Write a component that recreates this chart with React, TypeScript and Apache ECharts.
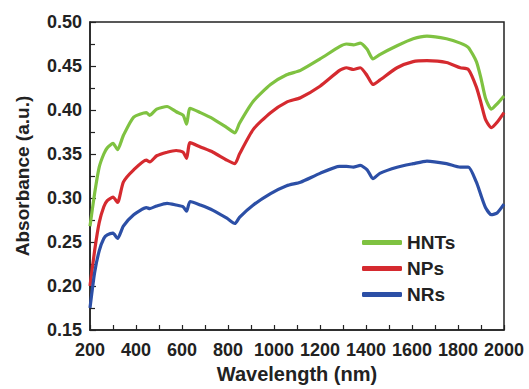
import React, { useEffect, useRef } from "react";
import * as echarts from "echarts";

const wavelengths = [200, 220, 240, 260, 275, 300, 320, 345, 390, 445, 460, 490, 535, 575, 605, 620, 635, 680, 735, 795, 830, 850, 910, 985, 1055, 1115, 1200, 1285, 1315, 1345, 1375, 1405, 1430, 1460, 1535, 1605, 1665, 1750, 1810, 1845, 1880, 1900, 1920, 1945, 1970, 2000];

const hnts = [0.268, 0.305, 0.335, 0.350, 0.357, 0.362, 0.355, 0.371, 0.392, 0.397, 0.394, 0.401, 0.404, 0.398, 0.394, 0.384, 0.402, 0.397, 0.390, 0.380, 0.374, 0.385, 0.410, 0.429, 0.440, 0.445, 0.458, 0.472, 0.475, 0.474, 0.476, 0.469, 0.458, 0.463, 0.473, 0.481, 0.484, 0.481, 0.476, 0.471, 0.455, 0.436, 0.413, 0.401, 0.407, 0.416];

const nps = [0.200, 0.240, 0.272, 0.290, 0.297, 0.301, 0.295, 0.318, 0.332, 0.343, 0.341, 0.348, 0.352, 0.354, 0.352, 0.345, 0.363, 0.358, 0.352, 0.343, 0.339, 0.350, 0.378, 0.397, 0.409, 0.414, 0.427, 0.445, 0.448, 0.446, 0.448, 0.439, 0.429, 0.434, 0.448, 0.455, 0.456, 0.454, 0.448, 0.446, 0.426, 0.408, 0.389, 0.380, 0.386, 0.397];

const nrs = [0.175, 0.215, 0.240, 0.254, 0.258, 0.260, 0.254, 0.268, 0.281, 0.289, 0.288, 0.291, 0.294, 0.292, 0.290, 0.285, 0.296, 0.292, 0.286, 0.277, 0.271, 0.278, 0.292, 0.305, 0.314, 0.318, 0.328, 0.336, 0.336, 0.335, 0.337, 0.332, 0.322, 0.328, 0.335, 0.339, 0.342, 0.339, 0.335, 0.335, 0.318, 0.303, 0.289, 0.281, 0.283, 0.293];

const seriesNames = ["HNTs", "NPs", "NRs"];
const seriesColors = ["#7fc241", "#d52a2f", "#2c4fa6"];

const FONT = "'Liberation Sans', Arial, sans-serif";

export default function App() {
  const ref = useRef<HTMLDivElement>(null);
  useEffect(() => {
    if (!ref.current) return;
    const chart = echarts.init(ref.current, undefined, { renderer: "svg" });
    const all = [hnts, nps, nrs];
    chart.setOption({
      animation: false,
      backgroundColor: "#ffffff",
      grid: {
        left: 90,
        right: 25,
        top: 22,
        bottom: 57,
        show: true,
        borderColor: "#222",
        borderWidth: 1.5,
        backgroundColor: "transparent",
      },
      legend: {
        orient: "vertical",
        left: 357,
        top: 228,
        itemWidth: 40,
        itemHeight: 5,
        itemGap: 7,
        icon: "roundRect",
        textStyle: { fontFamily: FONT, fontWeight: "bold", fontSize: 19, color: "#222" },
        data: seriesNames,
      },
      xAxis: {
        type: "value",
        min: 200,
        max: 2000,
        interval: 200,
        name: "Wavelength (nm)",
        nameLocation: "middle",
        nameGap: 34,
        nameTextStyle: { fontFamily: FONT, fontWeight: "bold", fontSize: 20, color: "#222" },
        axisLine: { show: true, lineStyle: { color: "#222", width: 1.5 } },
        axisTick: { show: true, inside: true, length: 5, lineStyle: { color: "#222", width: 1.2 } },
        minorTick: { show: true, splitNumber: 2, length: 5, lineStyle: { color: "#222", width: 1.2 } },
        axisLabel: {
          fontFamily: FONT,
          fontWeight: "bold",
          fontSize: 18,
          color: "#222",
          margin: 11,
          formatter: (v: number) => String(v),
        },
        splitLine: { show: false },
      },
      yAxis: {
        type: "value",
        min: 0.15,
        max: 0.5,
        interval: 0.05,
        name: "Absorbance (a.u.)",
        nameLocation: "middle",
        nameGap: 58,
        nameTextStyle: { fontFamily: FONT, fontWeight: "bold", fontSize: 19, color: "#222" },
        axisLine: { show: true, lineStyle: { color: "#222", width: 1.5 } },
        axisTick: { show: true, inside: true, length: 6, lineStyle: { color: "#222", width: 1.2 } },
        minorTick: { show: true, splitNumber: 2, length: 5, lineStyle: { color: "#222", width: 1.2 } },
        axisLabel: {
          fontFamily: FONT,
          fontWeight: "bold",
          fontSize: 18,
          color: "#222",
          margin: 8,
          formatter: (v: number) => v.toFixed(2),
        },
        splitLine: { show: false },
      },
      series: seriesNames.map((name, i) => ({
        name,
        type: "line",
        showSymbol: false,
        smooth: 0.2,
        color: seriesColors[i],
        lineStyle: { width: 3.2, color: seriesColors[i] },
        data: wavelengths.map((w, j) => [w, all[i][j]]),
      })),
    });
    return () => chart.dispose();
  }, []);
  return (
    <div
      ref={ref}
      style={{ position: "fixed", left: 0, top: 0, width: 529, height: 389 }}
    />
  );
}
